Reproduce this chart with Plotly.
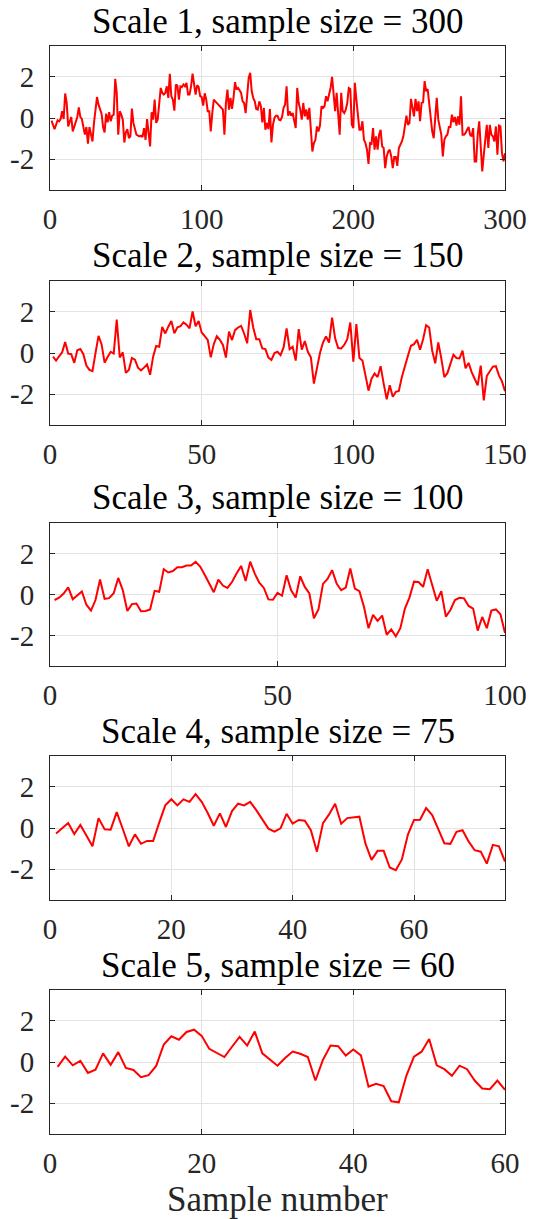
import plotly.graph_objects as go

# ---------------- data ----------------
scale1 = [-0.13, -0.33, -0.54, -0.33, -0.11, -0.16, -0.05, 0.33, -0.05, 1.19,
          0.73, -0.41, -0.21, 0.05, -0.65, -0.44, -0.21, 0.05, 0.52, 0.05,
          -0.05, -0.44, -0.81, -0.44, -1.25, -0.44, -0.89, -1.14, -0.24, 0.49,
          1.02, 0.65, 0.44, 0.21, -0.44, -0.70, 0.21, -0.21, 0.28, -0.16,
          0.11, 0.16, 1.90, 1.22, -0.81, 0.33, 0.16, -0.08, -1.19, -0.70,
          -0.54, -0.98, -0.89, 0.46, -0.24, -0.57, -0.81, -0.86, -0.89, -0.86,
          -0.93, -0.49, -1.06, -0.05, -0.65, -1.38, 0.28, -0.08, 0.89, -0.24,
          -0.08, 0.57, 1.46, 1.22, 1.14, 1.22, 1.54, 0.98, 2.15, 1.06,
          0.89, 0.36, 1.63, 1.58, 0.89, 1.54, 1.51, 1.63, 1.54, 1.71,
          1.14, 1.14, 1.54, 2.16, 1.54, 1.14, 1.59, 1.51, 1.06, 1.02,
          0.60, 1.20, 0.90, 0.33, 0.33, -0.65, 0.24, 0.89, 0.81, 0.70,
          0.65, 0.57, 0.49, 0.41, -0.81, 0.73, 1.38, 0.41, 0.98, 0.44,
          0.98, 1.74, 1.38, 1.46, 1.35, 1.22, 0.81, 0.73, 0.24, 0.98,
          1.95, 2.20, 1.30, 0.98, 0.81, 0.44, 0.41, 0.81, 0.60, -0.21,
          0.49, -0.57, -0.24, -0.54, 0.44, -1.19, -0.33, 0.00, 0.11, 0.11,
          -0.08, -0.11, 0.05, 0.49, 0.65, 1.54, 0.11, 0.33, 0.11, 0.24,
          -0.08, -0.49, 1.46, 0.73, 0.41, -0.08, 0.73, 0.08, 0.41, -0.08,
          0.49, -0.54, -1.63, -1.22, -1.06, -0.41, -0.65, -0.37, 0.57, 0.49,
          0.57, 1.06, 0.81, 1.14, 1.46, 2.00, 1.14, 0.33, 1.22, 0.28,
          -0.81, 1.22, 0.33, 0.24, 0.41, 0.73, 1.46, 1.41, -0.33, -0.49,
          1.71, 0.89, 0.08, -0.57, -0.57, -0.16, -1.06, -1.22, -1.54, -2.23,
          -1.22, -1.25, -0.49, -1.54, -0.89, -1.54, -0.81, -0.57, -1.38, -1.46,
          -2.44, -1.87, -1.63, -1.54, -1.87, -2.44, -1.90, -1.90, -2.33, -1.46,
          -1.30, -1.14, -0.89, -0.41, 0.11, -0.33, -0.24, 0.93, 0.49, 0.08,
          0.93, 0.33, 0.81, -0.16, 0.73, 0.76, 1.79, 1.30, 1.41, 0.73,
          0.24, -0.65, -0.98, -0.16, 0.98, -0.08, -0.49, -0.81, -1.87, -1.06,
          -0.89, -0.81, -0.44, -0.44, 0.16, -0.21, 0.05, -0.37, 0.08, -0.33,
          1.06, -0.81, -0.81, -0.73, -0.57, -0.44, -0.81, -0.89, -0.49, -2.11,
          -2.11, -0.81, -0.16, -1.38, -2.60, -1.79, -1.06, -0.33, -1.46, -0.33,
          -0.81, -0.89, -1.14, -0.41, -1.79, -0.37, -0.41, -1.71, -2.11, -1.71]

scale2 = [-0.18, -0.37, -0.16, 0.03, 0.53, -0.03, -0.06, -0.48, 0.13, 0.19,
          -0.06, -0.61, -0.82, -0.88, 0.00, 0.83, 0.43, -0.47, -0.19, 0.06,
          -0.03, 1.62, -0.22, 0.03, -0.96, -0.82, -0.24, -0.32, -0.71, -0.85,
          -0.71, -0.56, -1.06, -0.18, 0.34, 0.30, 1.27, 0.95, 1.28, 1.56,
          0.96, 1.25, 1.30, 1.49, 1.38, 1.20, 2.02, 1.30, 1.56, 1.00,
          0.82, 0.64, -0.21, 0.43, 0.82, 0.64, 0.39, -0.22, 1.04, 0.63,
          1.11, 1.24, 1.32, 0.95, 0.47, 2.09, 1.24, 0.67, 0.67, 0.22,
          0.19, -0.22, -0.34, 0.00, 0.06, -0.10, 0.27, 1.19, 0.19, 0.30,
          -0.37, 1.16, 0.16, 0.58, 0.06, -0.21, -1.49, -0.77, 0.00, 0.51,
          0.80, 0.51, 1.72, 0.71, 0.24, 0.22, 0.39, 0.67, 1.48, -0.42,
          1.40, -0.24, -0.37, -1.09, -1.83, -1.25, -1.00, -1.17, -0.64, -1.49,
          -2.25, -1.57, -2.13, -1.89, -1.85, -1.17, -0.61, -0.13, 0.35, 0.43,
          0.64, 0.16, 0.67, 1.35, 1.24, 0.11, -0.50, 0.51, -0.26, -1.17,
          -0.98, -0.48, -0.08, -0.24, -0.26, 0.11, -0.74, -0.48, -0.93, -1.25,
          -1.57, -0.61, -2.30, -1.12, -0.90, -0.66, -0.64, -1.09, -1.38, -1.86]

scale3 = [-0.27, -0.16, 0.05, 0.35, -0.23, -0.03, 0.15, -0.50, -0.79, -0.27,
          0.73, -0.21, -0.18, 0.06, 0.81, 0.21, -0.81, -0.47, -0.44, -0.82,
          -0.81, -0.73, 0.18, 0.13, 1.24, 1.08, 1.15, 1.34, 1.34, 1.42,
          1.42, 1.60, 1.37, 0.97, 0.53, 0.11, 0.73, 0.44, 0.32, 0.61,
          1.03, 1.40, 0.66, 1.61, 1.02, 0.58, 0.32, -0.24, -0.26, 0.08,
          -0.06, 0.94, 0.21, -0.15, 0.89, 0.37, 0.05, -1.16, -0.73, 0.52,
          0.76, 1.19, 0.53, 0.21, 0.34, 1.27, 0.29, 0.16, -0.60, -1.65,
          -1.00, -1.29, -1.03, -1.97, -1.71, -2.05, -1.65, -0.69, -0.15, 0.63,
          0.61, 0.37, 1.24, 0.48, -0.31, 0.16, -1.08, -0.76, -0.27, -0.16,
          -0.19, -0.56, -0.69, -1.77, -1.10, -1.65, -0.79, -0.73, -0.97, -1.89]

scale4 = [-0.27, -0.02, 0.24, -0.29, 0.15, -0.37, -0.89, 0.48, -0.06, -0.08,
          0.77, -0.05, -0.89, -0.31, -0.77, -0.63, -0.63, 0.26, 1.10, 1.40,
          1.10, 1.39, 1.27, 1.65, 1.27, 0.73, 0.11, 0.71, 0.05, 0.82,
          1.18, 1.10, 1.27, 0.87, 0.39, -0.03, -0.18, -0.02, 0.69, 0.21,
          0.39, 0.35, -0.11, -1.15, 0.24, 0.66, 1.18, 0.21, 0.48, 0.52,
          0.55, -0.76, -1.55, -1.11, -1.11, -1.92, -2.05, -1.53, -0.32, 0.39,
          0.40, 0.97, 0.63, -0.05, -0.74, -0.77, -0.19, -0.11, -0.65, -1.08,
          -1.15, -1.73, -0.82, -0.89, -1.63]

scale5 = [-0.24, 0.26, -0.16, 0.06, -0.53, -0.37, 0.42, -0.14, 0.48, -0.29,
          -0.39, -0.74, -0.64, -0.19, 0.85, 1.25, 1.08, 1.46, 1.57, 1.27,
          0.64, 0.42, 0.24, 0.74, 1.22, 0.80, 1.48, 0.42, 0.11, -0.18,
          0.19, 0.51, 0.40, 0.24, -0.90, 0.11, 0.80, 0.77, 0.31, 0.61,
          0.32, -1.20, -1.06, -1.17, -1.91, -1.96, -0.66, 0.26, 0.50, 1.12,
          -0.16, -0.35, -0.67, -0.18, -0.35, -0.90, -1.29, -1.32, -0.90, -1.35]

series = [scale1, scale2, scale3, scale4, scale5]
scale_numbers = [1, 2, 3, 4, 5]
x_ranges = [300, 150, 100, 75, 60]
x_ticks = [[0, 100, 200, 300], [0, 50, 100, 150], [0, 50, 100],
           [0, 20, 40, 60], [0, 20, 40, 60]]
y_ticks = [-2, 0, 2]
y_ticktext = ["-2", "0", "2"]
x_title = "Sample number"

# ---------------- layout geometry (pixels) ----------------
W, H = 534, 1219
ML, MR, MT, MB = 50, 29, 46, 85
panel_px = [(46, 190), (281, 425), (523, 666), (756, 900), (990, 1134)]
plot_h = H - MT - MB

def fy(px):
    return (H - MB - px) / plot_h

FONT = "Liberation Serif"
TXT = "#262626"

fig = go.Figure()
layout = dict(
    template="none",
    width=W, height=H,
    margin=dict(l=ML, r=MR, t=MT, b=MB, autoexpand=False),
    paper_bgcolor="white", plot_bgcolor="white",
    showlegend=False,
    font=dict(family=FONT, color=TXT, size=29),
)
annotations = []
for k, ys in enumerate(series):
    n = len(ys)
    xs = list(range(1, n + 1))
    sfx = "" if k == 0 else str(k + 1)
    fig.add_trace(go.Scatter(x=xs, y=ys, mode="lines",
                             line=dict(color="#ff0000", width=2),
                             xaxis="x" + sfx, yaxis="y" + sfx,
                             hoverinfo="skip"))
    top, bot = panel_px[k]
    layout["xaxis" + sfx] = dict(
        domain=[0, 1], anchor="y" + sfx, range=[0, x_ranges[k]],
        tickvals=x_ticks[k], ticktext=[str(v) for v in x_ticks[k]],
        ticks="inside", ticklen=5, tickcolor=TXT, tickwidth=1,
        showline=True, linecolor=TXT, linewidth=1, mirror="ticks",
        showgrid=True, gridcolor="#e3e3e3", gridwidth=1, zeroline=False,
        automargin=False, ticklabelstandoff=3,
        tickfont=dict(family=FONT, size=29, color=TXT),
    )
    layout["yaxis" + sfx] = dict(
        domain=[fy(bot), fy(top)], anchor="x" + sfx, range=[-3.5, 3.5],
        tickvals=y_ticks, ticktext=y_ticktext,
        ticks="inside", ticklen=5, tickcolor=TXT, tickwidth=1,
        showline=True, linecolor=TXT, linewidth=1, mirror="ticks",
        showgrid=True, gridcolor="#e3e3e3", gridwidth=1, zeroline=False,
        automargin=False, ticklabelstandoff=9,
        tickfont=dict(family=FONT, size=29, color=TXT),
    )
    annotations.append(dict(
        text=f"Scale {scale_numbers[k]}, sample size = {n}",
        xref="paper", yref="paper", x=(277.5 - ML) / (W - ML - MR),
        y=fy(top - 25), xanchor="center", yanchor="middle",
        showarrow=False, font=dict(family=FONT, size=35, color="#000000"),
    ))

annotations.append(dict(
    text=x_title, xref="paper", yref="paper",
    x=(277.5 - ML) / (W - ML - MR), y=fy(1199),
    xanchor="center", yanchor="middle", showarrow=False,
    font=dict(family=FONT, size=35, color=TXT),
))
layout["annotations"] = annotations
fig.update_layout(**layout)
fig.write_html("out.html")
